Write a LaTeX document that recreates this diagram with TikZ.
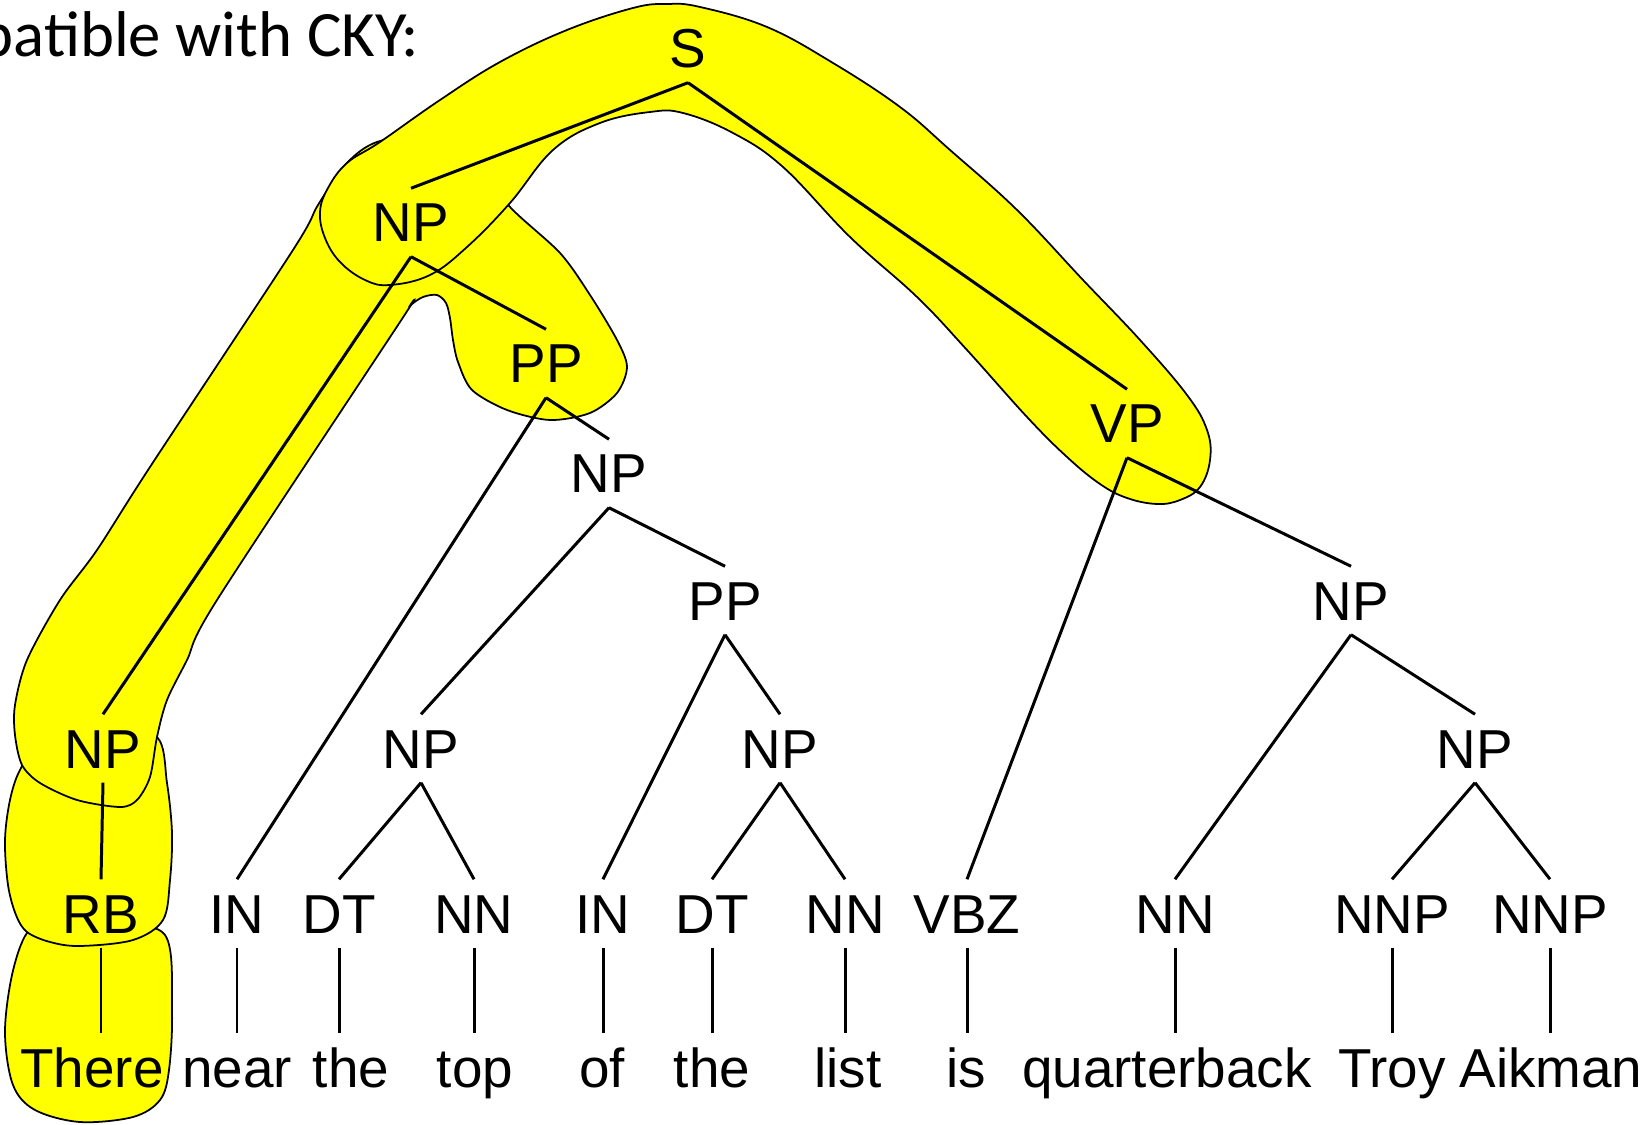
\documentclass[tikz,border=0pt]{standalone}
\usepackage{fontspec}
\setmainfont{Liberation Sans}
\newfontfamily\capfont{Carlito}
\usetikzlibrary{backgrounds}
\definecolor{hl}{RGB}{255,255,0}
\begin{document}
\begin{tikzpicture}[x=0.01cm,y=-0.01cm,
  lab/.style={anchor=base, inner xsep=0pt, inner ysep=0.14cm,
    text height=0.39cm, text depth=0pt,
    font=\fontsize{15.6pt}{18pt}\selectfont},
  branch/.style={line width=0.85pt},
  blob/.style={fill=hl, draw=black, line width=0.5pt}]
\useasboundingbox (0,0) rectangle (1652,1125);
\clip (0,0) rectangle (1652,1125);

% heading, partly cut off at the left edge
\node[anchor=base east, inner sep=0pt, font=\capfont\fontsize{18.4pt}{22pt}\selectfont]
  (head) at (420,57) {patible with CKY:};

% phrase nodes
\node[lab] (S)   at (688,68)  {S};
\node[lab] (NPa) at (411,242) {NP};
\node[lab] (PPa) at (546,383) {PP};
\node[lab] (NPb) at (609,493) {NP};
\node[lab] (VP)  at (1127,443) {VP};
\node[lab] (PPb) at (725,620) {PP};
\node[lab] (NPr) at (1351,620) {NP};
\node[lab] (NPl) at (103,768) {NP};
\node[lab] (NPc) at (421,768) {NP};
\node[lab] (NPd) at (780,768) {NP};
\node[lab] (NPe) at (1475,768) {NP};

% part-of-speech row
\node[lab] (RB)   at (101,933)  {RB};
\node[lab] (INa)  at (237,933)  {IN};
\node[lab] (DTa)  at (339,933)  {DT};
\node[lab] (NNa)  at (474,933)  {NN};
\node[lab] (INb)  at (603,933)  {IN};
\node[lab] (DTb)  at (712,933)  {DT};
\node[lab] (NNb)  at (845,933)  {NN};
\node[lab] (VBZ)  at (967,933)  {VBZ};
\node[lab] (NNc)  at (1175,933) {NN};
\node[lab] (NNPa) at (1392,933) {NNP};
\node[lab] (NNPb) at (1550,933) {NNP};

% words
\node[lab] (w1)  at (92,1087)   {There};
\node[lab] (w2)  at (237,1087)  {near};
\node[lab] (w3)  at (351,1087)  {the};
\node[lab] (w4)  at (475,1087)  {top};
\node[lab] (w5)  at (602,1087)  {of};
\node[lab] (w6)  at (712,1087)  {the};
\node[lab] (w7)  at (848,1087)  {list};
\node[lab] (w8)  at (966,1087)  {is};
\node[lab] (w9)  at (1167,1087) {quarterback};
\node[lab] (w10) at (1392,1087) {Troy};
\node[lab] (w11) at (1551,1087) {Aikman};

% highlighted constituents
\begin{scope}[on background layer]
  % There
  \draw[blob] plot[smooth cycle, tension=0.55] coordinates {
    (50,925) (27,933) (12,975) (5,1033) (13,1085) (35,1110) (80,1122)
    (133,1117) (160,1100) (169,1070) (172,1010) (165,935) (110,925)};
  % RB
  \draw[blob] plot[smooth cycle, tension=0.55] coordinates {
    (40,745) (20,770) (10,800) (5,840) (8,885) (16,915) (27,932) (50,942)
    (80,946) (133,940) (163,920) (170,880) (172,833) (167,783) (157,737)
    (110,725)};
  % NP -> NP PP
  \draw[blob] plot[smooth cycle, tension=0.5] coordinates {
    (40,783) (22,765) (15,735) (15,705) (27,660) (60,600) (97,550)
    (150,467) (293,250) (318,205) (347,163) (377,142) (430,135) (480,165)
    (510,207) (560,253) (590,295) (617,340) (627,367) (617,393) (590,413)
    (550,420) (507,410) (472,390) (458,362) (453,340) (450,318) (446,303)
    (437,295) (423,297) (410,306) (400,322) (217,600) (187,660) (167,700)
    (157,737) (150,777) (137,800) (120,807) (77,800)};
  % S -> NP VP
  \draw[blob] plot[smooth cycle, tension=0.65] coordinates {
    (320,212) (328,188) (347,163) (380,142) (440,100) (500,62) (567,30)
    (633,8) (667,4) (700,7) (767,27) (833,63) (900,107) (950,150)
    (1017,210) (1083,280) (1140,340) (1187,395) (1207,430) (1210,460)
    (1200,487) (1180,500) (1157,504) (1127,498) (1100,484) (1067,457)
    (1027,417) (967,350) (917,297) (850,237) (783,167) (733,133)
    (683,113) (650,112) (600,123) (553,150) (510,203) (467,247)
    (430,275) (390,285) (365,280) (340,262) (325,238)};
\end{scope}

% tree branches
\begin{scope}[branch]
  \draw (S.south) -- (NPa.north);
  \draw (S.south) -- (VP.north);
  \draw (NPa.south) -- (NPl.north);
  \draw (NPa.south) -- (PPa.north);
  \draw (PPa.south) -- (INa.north);
  \draw (PPa.south) -- (NPb.north);
  \draw (NPb.south) -- (NPc.north);
  \draw (NPb.south) -- (PPb.north);
  \draw (PPb.south) -- (INb.north);
  \draw (PPb.south) -- (NPd.north);
  \draw (NPc.south) -- (DTa.north);
  \draw (NPc.south) -- (NNa.north);
  \draw (NPd.south) -- (DTb.north);
  \draw (NPd.south) -- (NNb.north);
  \draw (VP.south) -- (VBZ.north);
  \draw (VP.south) -- (NPr.north);
  \draw (NPr.south) -- (NNc.north);
  \draw (NPr.south) -- (NPe.north);
  \draw (NPe.south) -- (NNPa.north);
  \draw (NPe.south) -- (NNPb.north);
  \draw (NPl.south) -- (RB.north);
  \foreach \p/\w in {RB/w1, INa/w2, DTa/w3, NNa/w4, INb/w5, DTb/w6,
                     NNb/w7, VBZ/w8, NNc/w9, NNPa/w10, NNPb/w11}
    \draw (\p.south) -- (\p.south |- \w.north);
\end{scope}
\end{tikzpicture}
\end{document}
